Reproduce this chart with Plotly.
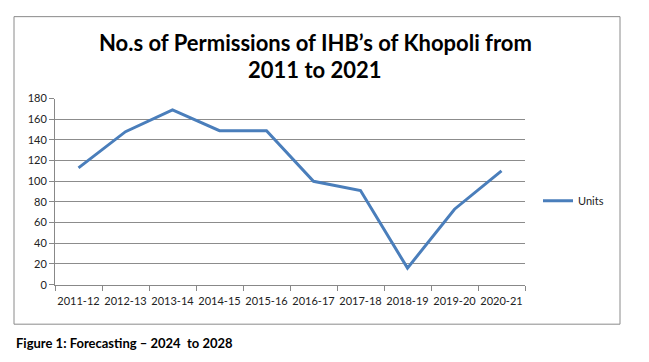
import plotly.graph_objects as go

categories = ["2011-12", "2012-13", "2013-14", "2014-15", "2015-16",
              "2016-17", "2017-18", "2018-19", "2019-20", "2020-21"]
units = [113, 148, 169, 149, 149, 100, 91, 16, 73, 110]
y_ticks = [0, 20, 40, 60, 80, 100, 120, 140, 160, 180]

W, H = 649, 362
def px(x): return x / W
def py(y): return 1 - y / H

fig = go.Figure()
fig.add_trace(go.Scatter(
    x=categories, y=units, mode="lines", name="Units",
    line=dict(color="#4a7ebb", width=3),
))

fig.update_layout(
    width=W, height=H,
    margin=dict(l=0, r=0, t=0, b=0),
    paper_bgcolor="white", plot_bgcolor="white",
    font=dict(family="Lato, Calibri, sans-serif", color="#222", size=11),
    showlegend=True,
    legend=dict(x=px(538), y=py(201), xanchor="left", yanchor="middle",
                font=dict(size=11, color="#222"), bgcolor="rgba(0,0,0,0)",
                itemwidth=30),
    xaxis=dict(domain=[px(55), px(525)], type="category", range=[-0.5, 9.5],
               showgrid=False, showline=True, linecolor="#888", linewidth=1,
               ticks="outside", tickson="boundaries", ticklen=5, tickcolor="#888",
               tickangle=0, ticklabelstandoff=6,
               tickfont=dict(size=11, color="#222")),
    yaxis=dict(domain=[py(288), py(95)], range=[0, 180], tickvals=y_ticks,
               showgrid=True, gridcolor="#8c8c8c", gridwidth=1,
               showline=True, linecolor="#888", linewidth=1,
               ticks="outside", ticklen=5, tickcolor="#888",
               zeroline=False, tickfont=dict(size=11, color="#222")),
    shapes=[dict(type="rect", xref="paper", yref="paper",
                 x0=px(14), x1=px(620), y0=py(329), y1=py(10),
                 line=dict(color="#8a8a8a", width=1))],
    annotations=[
        dict(text="<b>No.s of Permissions of IHB’s of Khopoli from</b>",
             x=px(315), y=py(37), xref="paper", yref="paper",
             xanchor="center", yanchor="middle", showarrow=False,
             font=dict(size=22, color="#000")),
        dict(text="<b>2011 to 2021</b>",
             x=px(315), y=py(65), xref="paper", yref="paper",
             xanchor="center", yanchor="middle", showarrow=False,
             font=dict(size=22, color="#000")),
        dict(text="<b>Figure 1: Forecasting – 2024  to 2028</b>",
             x=px(14), y=py(349), xref="paper", yref="paper",
             xanchor="left", yanchor="middle", showarrow=False,
             font=dict(size=13, color="#000")),
    ],
)

fig.write_html("out.html")
